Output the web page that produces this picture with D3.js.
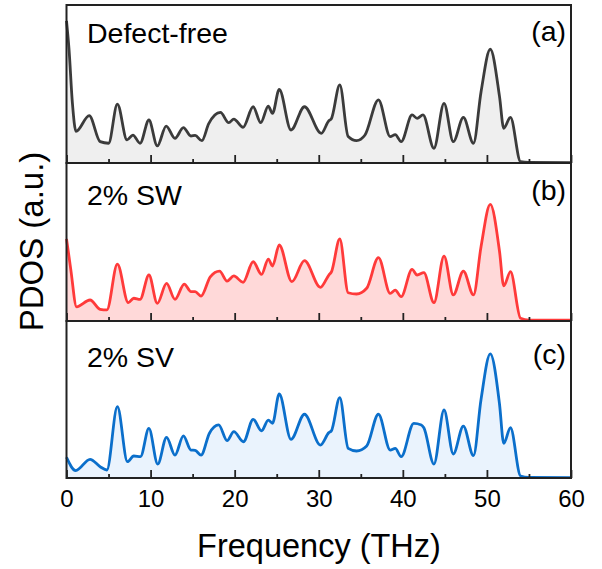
<!DOCTYPE html>
<html><head><meta charset="utf-8">
<script src="https://cdn.jsdelivr.net/npm/d3@7"></script>
<style>body{margin:0;background:#fff}svg{display:block}text{font-family:"Liberation Sans",Arial,sans-serif;fill:#000}</style>
</head><body><svg id="c" width="602" height="569"></svg>
<script>
// ---- data (PDOS, arbitrary units) ----
const xTicks = [0, 10, 20, 30, 40, 50, 60];
const minorTicks = [5, 15, 25, 35, 45, 55];
const panelNames = ["Defect-free", "2% SW", "2% SV"];
const panelTags = ["(a)", "(b)", "(c)"];

const freqA = [0,0.3,0.7,1.13,2.7,4.0,5.0,6.05,7.2,7.9,8.75,9.8,10.8,11.85,12.9,13.9,14.8,15.3,16.1,16.9,18.3,19.3,19.9,21.0,22.2,23.1,24.0,24.5,25.3,26.7,28.3,30.3,31.2,31.5,32.5,33.5,34.5,35.5,37.1,38.5,39.1,39.8,41.1,41.7,42.4,43.7,44.9,46.0,47.2,48.4,49.3,50.4,51.5,52.0,52.8,54.0,55,60];
const pdosA = [0.90,0.72,0.38,0.20,0.30,0.135,0.125,0.373,0.146,0.177,0.125,0.272,0.108,0.234,0.156,0.224,0.171,0.175,0.141,0.247,0.32,0.255,0.278,0.226,0.356,0.255,0.36,0.314,0.466,0.209,0.356,0.188,0.268,0.28,0.494,0.167,0.141,0.177,0.40,0.167,0.18,0.135,0.304,0.283,0.304,0.093,0.378,0.135,0.289,0.125,0.45,0.72,0.42,0.22,0.289,0.008,0.004,0.003];

const freqB = [0,0.5,1.2,2.8,4.0,4.8,6.05,7.35,8.0,8.75,9.8,10.8,11.9,12.9,14.0,14.8,15.3,16.0,17.1,18.2,19.1,19.9,21.0,22.2,23.2,24.0,24.5,25.3,26.8,28.3,30.2,31.2,31.5,32.5,33.5,34.5,35.7,37.1,38.5,39.1,39.8,41.1,41.7,42.5,43.7,44.9,46.0,47.2,48.4,49.3,50.4,51.5,52.0,52.8,54.0,55,60];
const pdosB = [0.52,0.33,0.09,0.133,0.074,0.07,0.36,0.116,0.144,0.137,0.291,0.112,0.238,0.137,0.234,0.186,0.186,0.158,0.28,0.316,0.253,0.285,0.245,0.375,0.295,0.392,0.348,0.481,0.249,0.382,0.213,0.291,0.31,0.519,0.179,0.171,0.207,0.401,0.175,0.196,0.154,0.327,0.291,0.306,0.116,0.411,0.165,0.316,0.165,0.47,0.738,0.44,0.222,0.312,0.017,0.006,0.005];

const freqC = [0,1.1,2.8,4.0,4.8,6.05,7.25,8.0,8.8,9.8,10.85,11.9,12.9,13.9,14.8,15.3,16.0,17.0,18.1,19.1,19.9,21.05,22.2,23.2,24.0,24.5,25.3,26.7,28.3,30.2,31.2,31.5,32.5,33.5,34.5,35.7,37.1,38.5,39.1,39.8,41.3,42.2,42.5,43.7,44.9,46.0,47.2,48.4,49.3,50.4,51.5,52.0,52.8,54.0,55,60];
const pdosC = [0.132,0.047,0.119,0.072,0.051,0.454,0.104,0.14,0.136,0.316,0.089,0.259,0.146,0.268,0.178,0.176,0.146,0.285,0.338,0.238,0.295,0.231,0.374,0.301,0.369,0.348,0.535,0.246,0.406,0.21,0.289,0.30,0.512,0.189,0.172,0.204,0.406,0.178,0.189,0.136,0.348,0.338,0.32,0.089,0.433,0.153,0.331,0.142,0.50,0.79,0.47,0.221,0.32,0.013,0.004,0.003];

const seriesX = [freqA, freqB, freqC];
const seriesY = [pdosA, pdosB, pdosC];
const lineColors = ["#3b3b3b", "#ff3a3a", "#0b6fcb"];
const fillColors = ["#efefef", "#ffd9d9", "#eaf3fd"];

// ---- layout ----
const svg = d3.select("#c");
const left = 66.5, right = 571;
const tops = [5, 163, 321], bottom = 478;
const x = d3.scaleLinear().domain([0, 60]).range([left, right]);

for (let i = 0; i < 3; i++) {
  const t = tops[i], b = i < 2 ? tops[i + 1] : bottom;
  const y = d3.scaleLinear().domain([0, 1]).range([b, t]);
  const pts = seriesX[i].map((f, k) => [f, seriesY[i][k]]);
  const g = svg.append("g");
  g.append("path").datum(pts)
    .attr("d", d3.area().x(d => x(d[0])).y0(y(0)).y1(d => y(d[1])).curve(d3.curveMonotoneX))
    .attr("fill", fillColors[i]);
  g.append("path").datum(pts)
    .attr("d", d3.line().x(d => x(d[0])).y(d => y(d[1])).curve(d3.curveMonotoneX))
    .attr("fill", "none").attr("stroke", lineColors[i]).attr("stroke-width", 2.8)
    .attr("stroke-linejoin", "round");
  // inward ticks on the bottom edge
  const axMaj = d3.axisTop(x).tickValues(xTicks).tickSize(8).tickFormat("");
  const axMin = d3.axisTop(x).tickValues(minorTicks).tickSize(4).tickFormat("");
  [axMaj, axMin].forEach(ax => {
    const a = g.append("g").attr("transform", `translate(0,${b})`).call(ax);
    a.select(".domain").remove();
    a.selectAll("line").attr("stroke", "#222").attr("stroke-width", 1.8);
  });
  g.append("rect").attr("x", left).attr("y", t).attr("width", right - left).attr("height", b - t)
    .attr("fill", "none").attr("stroke", "#222").attr("stroke-width", 2);
  g.append("text").attr("x", 87).attr("y", [43, 205, 367][i]).attr("font-size", 28.5).text(panelNames[i]);
  g.append("text").attr("x", 566).attr("y", [41, 200, 364][i]).attr("font-size", 28.5)
    .attr("text-anchor", "end").text(panelTags[i]);
}

// bottom tick labels
const axLab = d3.axisBottom(x).tickValues(xTicks).tickSize(0).tickPadding(12).tickFormat(d3.format("d"));
const al = svg.append("g").attr("transform", `translate(0,${bottom})`).call(axLab);
al.select(".domain").remove();
al.selectAll("text").attr("font-size", 24).attr("font-family", '"Liberation Sans",Arial,sans-serif').attr("fill", "#000");

svg.append("text").attr("x", 319).attr("y", 557).attr("text-anchor", "middle")
  .attr("font-size", 32.5).text("Frequency (THz)");
svg.append("text").attr("transform", `translate(43,${(tops[0] + bottom) / 2}) rotate(-90)`)
  .attr("text-anchor", "middle").attr("font-size", 33).text("PDOS (a.u.)");
</script></body></html>
